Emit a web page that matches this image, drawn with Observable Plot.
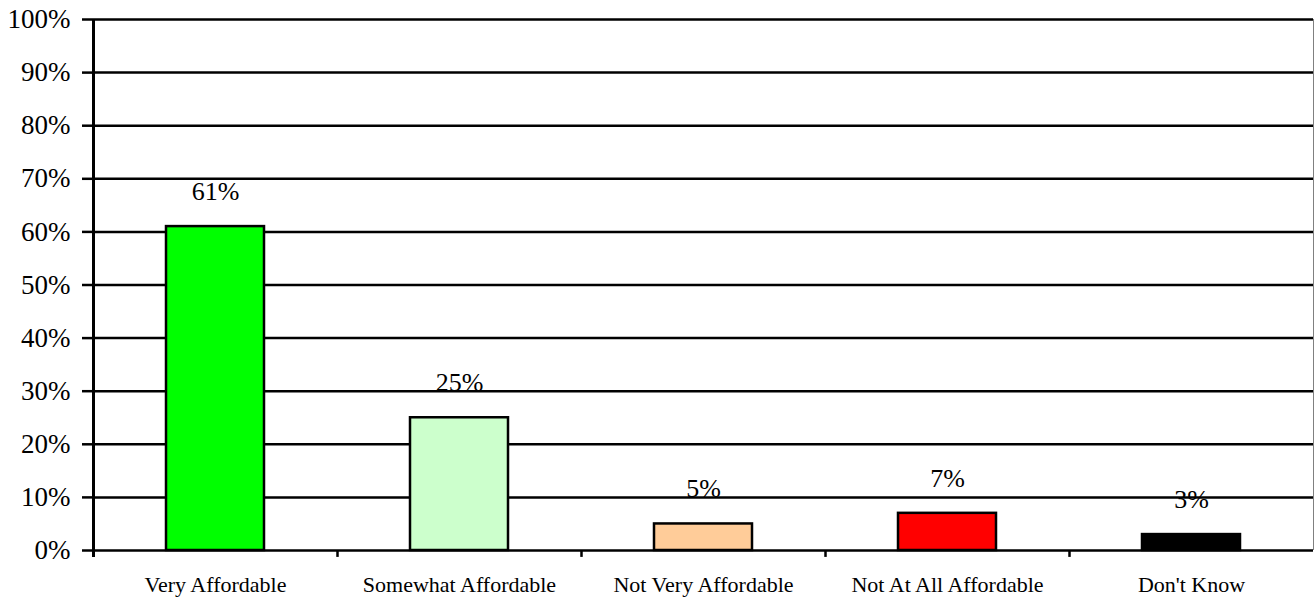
<!DOCTYPE html>
<html>
<head>
<meta charset="utf-8">
<script src="https://cdn.jsdelivr.net/npm/d3@7"></script>
<script src="https://cdn.jsdelivr.net/npm/@observablehq/plot@0.6"></script>
<style>
  html, body { margin: 0; padding: 0; background: #fff; }
  #chart svg { display: block; }
  #chart svg, #chart svg text { font-family: "Liberation Serif", "Times New Roman", "DejaVu Serif", serif !important; }
</style>
</head>
<body>
<div id="chart"></div>
<script>
const categories = ["Very Affordable", "Somewhat Affordable", "Not Very Affordable", "Not At All Affordable", "Don't Know"];
const values = [61, 25, 5, 7, 3];
const colors = ["#00FF00", "#CCFFCC", "#FFCC99", "#FF0000", "#000000"];
const yTicks = [0, 10, 20, 30, 40, 50, 60, 70, 80, 90, 100];

const data = categories.map((c, i) => ({category: c, value: values[i], color: colors[i]}));

const W = 1314, H = 600;
const mL = 93, mR = 1, mT = 19, mB = 50;
const step = (W - mL - mR) / categories.length;

const chart = Plot.plot({
  width: W,
  height: H,
  marginLeft: mL,
  marginRight: mR,
  marginTop: mT,
  marginBottom: mB,
  style: {color: "#000", background: "#fff"},
  x: {domain: categories, paddingInner: 0.6, paddingOuter: 0.3, label: null},
  y: {domain: [0, 100], label: null},
  color: {type: "identity"},
  marks: [
    Plot.ruleY(yTicks, {stroke: "#000", strokeWidth: 2.5}),
    Plot.barY(data, {x: "category", y: "value", fill: "color", stroke: "#000", strokeWidth: 2.5}),
    Plot.text(data, {x: "category", y: "value", text: d => d.value + "%", dy: -35, fontSize: 26, fill: "#000", lineAnchor: "middle"}),
    Plot.ruleX([categories[0]], {dx: -step / 2, y1: -1.3, y2: 100, stroke: "#000", strokeWidth: 3}),
    Plot.ruleX(categories.slice(1), {dx: -step / 2, y1: -1.3, y2: 0, stroke: "#000", strokeWidth: 2.5}),
    Plot.ruleX([categories[categories.length - 1]], {dx: step / 2, y1: 0, y2: 100, stroke: "#808080", strokeWidth: 1}),
    Plot.axisY(yTicks, {tickSize: 11, tickPadding: 12, tickFormat: d => d + "%", fontSize: 27, strokeWidth: 2.5, stroke: "#000", fill: "#000"}),
    Plot.axisX({tickSize: 0, tickPadding: 26, fontSize: 22, fill: "#000"})
  ]
});
document.getElementById("chart").appendChild(chart);
</script>
</body>
</html>
